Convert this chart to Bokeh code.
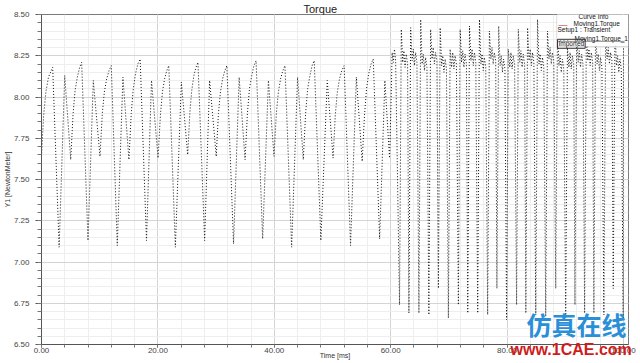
from bokeh.plotting import figure
from bokeh.models import (Range1d, SingleIntervalTicker, FixedTicker, PrintfTickFormatter,
                          Label, BoxAnnotation, LinearAxis, Title)
from bokeh.embed import file_html
from bokeh.resources import INLINE

# ---- data (time in ms, torque in N*m) ----
phase1_time = [0.00, 0.35, 0.75, 1.20, 1.92, 3.03, 3.99, 5.02, 5.43, 5.77, 6.16, 6.56, 6.90,
               7.99, 8.90, 10.05, 10.45, 10.80, 11.20, 11.60, 11.99, 13.02, 13.99, 15.02,
               15.42, 15.77, 16.15, 16.55, 16.95, 18.04, 18.90, 20.03, 20.43, 20.78, 21.15,
               21.52, 21.87, 23.00, 24.03, 25.12, 25.50, 25.82, 26.18, 26.55, 26.88, 28.03,
               28.89, 30.02, 30.40, 30.75, 31.12, 31.50, 31.85, 33.00, 33.96, 34.98, 35.38,
               35.73, 36.12, 36.50, 36.87, 38.00, 38.99, 39.95, 40.35, 40.70, 41.08, 41.47,
               41.83, 42.98, 44.00, 44.98, 45.38, 45.73, 46.12, 46.50, 46.86, 48.00, 49.10,
               50.10, 50.48, 50.83, 51.20, 51.60, 52.00, 53.10, 54.10, 55.10, 55.50, 55.85,
               56.22, 56.62, 57.00, 58.10, 59.00, 59.80, 60.05, 60.25, 60.45, 60.65, 60.85]
phase1_torque = [7.64, 7.88, 8.03, 8.12, 8.18, 7.09, 8.13, 7.62, 7.90, 8.04, 8.12, 8.18, 8.21,
                 7.13, 8.10, 7.64, 7.90, 8.03, 8.11, 8.16, 8.19, 7.10, 8.12, 7.62,
                 7.90, 8.05, 8.14, 8.20, 8.23, 7.13, 8.10, 7.63, 7.89, 8.03, 8.11,
                 8.16, 8.19, 7.09, 8.09, 7.65, 7.91, 8.04, 8.13, 8.18, 8.21, 7.13,
                 8.10, 7.64, 7.90, 8.03, 8.11, 8.16, 8.19, 7.11, 8.12, 7.62, 7.90,
                 8.05, 8.13, 8.19, 8.22, 7.14, 8.10, 7.64, 7.90, 8.03, 8.11, 8.16,
                 8.19, 7.09, 8.12, 7.62, 7.90, 8.05, 8.13, 8.19, 8.22, 7.13, 8.10,
                 7.63, 7.89, 8.03, 8.11, 8.16, 8.19, 7.10, 8.12, 7.61, 7.89, 8.05,
                 8.14, 8.20, 8.23, 7.14, 8.10, 7.63, 7.95, 8.27, 8.21, 8.29, 8.22]

phase2_time = [
    61.52, 61.82, 62.07, 62.27, 62.47, 62.67, 62.90,
    63.13, 63.43, 63.68, 63.88, 64.08, 64.28, 64.51,
    64.85, 65.15, 65.40, 65.60, 65.80, 66.00, 66.23,
    66.56, 66.86, 67.11, 67.31, 67.51, 67.71, 67.94,
    68.20, 68.50, 68.75, 68.95, 69.15, 69.35, 69.58,
    69.91, 70.21, 70.46, 70.66, 70.86, 71.06, 71.29,
    71.63, 71.93, 72.18, 72.38, 72.58, 72.78, 73.01,
    73.24, 73.54, 73.79, 73.99, 74.19, 74.39, 74.62,
    74.95, 75.25, 75.50, 75.70, 75.90, 76.10, 76.33,
    76.66, 76.96, 77.21, 77.41, 77.61, 77.81, 78.04,
    78.25, 78.55, 78.80, 79.00, 79.20, 79.40, 79.63,
    79.91, 80.21, 80.46, 80.66, 80.86, 81.06, 81.29,
    81.63, 81.93, 82.18, 82.38, 82.58, 82.78, 83.01,
    83.22, 83.52, 83.77, 83.97, 84.17, 84.37, 84.60,
    84.93, 85.23, 85.48, 85.68, 85.88, 86.08, 86.31,
    86.64, 86.94, 87.19, 87.39, 87.59, 87.79, 88.02,
    88.36, 88.66, 88.91, 89.11, 89.31, 89.51, 89.74,
    90.07, 90.37, 90.62, 90.82, 91.02, 91.22, 91.45,
    91.66, 91.96, 92.21, 92.41, 92.61, 92.81, 93.04,
    93.32, 93.62, 93.87, 94.07, 94.27, 94.47, 94.70,
    94.91, 95.21, 95.46, 95.66, 95.86, 96.06, 96.29,
    96.63, 96.93, 97.18, 97.38, 97.58, 97.78, 98.01,
    98.24, 98.54, 98.79, 98.99, 99.19, 99.39, 99.62,
    99.95, 100.00]
phase2_torque = [
    6.74, 8.41, 8.21, 8.28, 8.18, 8.26, 8.20,
    6.69, 8.42, 8.22, 8.29, 8.19, 8.27, 8.21,
    6.69, 8.47, 8.20, 8.26, 8.16, 8.24, 8.18,
    6.68, 8.41, 8.23, 8.30, 8.20, 8.27, 8.22,
    6.84, 8.42, 8.19, 8.25, 8.15, 8.23, 8.17,
    6.66, 8.29, 8.18, 8.27, 8.17, 8.25, 8.20,
    6.74, 8.41, 8.21, 8.28, 8.18, 8.26, 8.20,
    6.69, 8.43, 8.22, 8.29, 8.19, 8.27, 8.21,
    6.69, 8.47, 8.20, 8.26, 8.16, 8.24, 8.18,
    6.68, 8.40, 8.23, 8.30, 8.20, 8.27, 8.22,
    6.84, 8.43, 8.19, 8.25, 8.15, 8.23, 8.17,
    6.65, 8.29, 8.18, 8.27, 8.17, 8.25, 8.20,
    6.74, 8.41, 8.21, 8.28, 8.18, 8.26, 8.20,
    6.69, 8.42, 8.22, 8.29, 8.19, 8.27, 8.21,
    6.68, 8.47, 8.20, 8.26, 8.16, 8.24, 8.18,
    6.67, 8.40, 8.23, 8.30, 8.20, 8.27, 8.22,
    6.84, 8.42, 8.19, 8.25, 8.15, 8.23, 8.17,
    6.65, 8.30, 8.18, 8.27, 8.17, 8.25, 8.20,
    6.74, 8.41, 8.21, 8.28, 8.18, 8.26, 8.20,
    6.69, 8.43, 8.22, 8.29, 8.19, 8.27, 8.21,
    6.69, 8.46, 8.20, 8.26, 8.16, 8.24, 8.18,
    6.68, 8.40, 8.23, 8.30, 8.20, 8.27, 8.22,
    6.84, 8.42, 8.19, 8.25, 8.15, 8.23, 8.17,
    6.65, 8.30]

x_limits = [0, 100]
y_limits = [6.5, 8.5]
title_text = "Torque"
x_label = "Time [ms]"
y_label = "Y1 [NewtonMeter]"
legend_header = "Curve Info"
legend_series = ["Moving1.Torque", "Setup1 : Transient", "Moving1.Torque_1", "Imported"]
watermark_cn = "仿真在线"
watermark_url = "www.1CAE.com"

time_ms = phase1_time + phase2_time
torque = phase1_torque + phase2_torque

FONT = "Liberation Sans"

p = figure(width=640, height=363, title=None,
           x_range=Range1d(x_limits[0], 100.86), y_range=Range1d(*y_limits),
           output_backend="svg", toolbar_location=None,
           min_border_left=39, min_border_right=12, min_border_top=13, min_border_bottom=19)
p.background_fill_color = "white"
p.border_fill_color = "white"
p.outline_line_color = "#7a7a7a"
p.outline_line_width = 1

# title in the top border
p.add_layout(Title(text=title_text, align="left", offset=262, standoff=0,
                   text_font=FONT, text_font_size="11px", text_font_style="normal",
                   text_color="#222222"), "above")

p.line(time_ms, torque, line_color="#111111", line_width=1, line_dash="1 2")

# axes
p.xaxis.ticker = SingleIntervalTicker(interval=20, num_minor_ticks=5)
p.yaxis.ticker = SingleIntervalTicker(interval=0.25, num_minor_ticks=5)
p.xaxis.formatter = PrintfTickFormatter(format="%.2f")
p.yaxis.formatter = PrintfTickFormatter(format="%.2f")
for ax in (p.xaxis[0], p.yaxis[0]):
    ax.axis_line_color = "#555555"
    ax.major_tick_line_color = "#555555"
    ax.minor_tick_line_color = "#777777"
    ax.major_label_text_font = FONT
    ax.major_label_text_font_size = "8px"
    ax.major_label_text_color = "#444444"
    ax.major_tick_in = 0
    ax.minor_tick_in = 0
    ax.axis_label_text_font = FONT
    ax.axis_label_text_font_size = "7px"
    ax.axis_label_text_font_style = "normal"
    ax.axis_label_text_color = "#333333"
p.xaxis.axis_label = x_label
p.yaxis.axis_label = y_label
p.xaxis.major_tick_out = 3
p.xaxis.minor_tick_out = 3
p.xaxis.major_label_standoff = 0
p.xaxis.axis_label_standoff = -4
p.yaxis.major_tick_out = 6
p.yaxis.minor_tick_out = 4
p.yaxis.major_label_standoff = 6
p.yaxis.axis_label_standoff = 0

# grid
p.xgrid.grid_line_color = "#d4d4d4"
p.ygrid.grid_line_color = "#d4d4d4"
p.xgrid.minor_grid_line_color = "#eeeeee"
p.ygrid.minor_grid_line_color = "#eeeeee"

# legend box (Curve Info)
p.add_layout(BoxAnnotation(left=88.53, right=100.86, bottom=8.306, top=8.512,
                           fill_color="white", fill_alpha=1.0, line_color="#8a8a8a", line_width=1))
p.add_layout(BoxAnnotation(left=88.70, right=100.17, bottom=8.337, top=8.337,
                           fill_alpha=0, line_color="#333333", line_width=1))
lx, ly = x_limits[1], y_limits[1]
def legend_text(txt, dx, dy, align="left", color="#111111", size="6.5px", **kw):
    p.add_layout(Label(x=lx, y=ly, x_offset=dx, y_offset=dy, text=txt, text_align=align,
                       text_baseline="middle", text_font=FONT, text_font_size=size,
                       text_color=color, **kw))
legend_text(legend_header, -30, -2, align="center")
legend_text("\u2014", -65, -10, color="#cc2020", size="9px")
legend_text(legend_series[0], -50, -9)
legend_text(legend_series[1], -66, -14.5)
legend_text(". . .", -64, -24)
legend_text(legend_series[2], -49, -23.5)
legend_text(legend_series[3], -66, -29.3, border_line_color="#333333", border_line_width=1, padding=1)

# site watermark
p.add_layout(Label(x=x_limits[1], y=y_limits[0], x_offset=-97, y_offset=20.5, text=watermark_cn,
                   text_align="left", text_baseline="middle", text_font="Noto Sans CJK SC",
                   text_font_size="25px", text_font_style="bold", text_color="#2b8fd8"))
url_axis = LinearAxis(ticker=FixedTicker(ticks=[94]), major_label_overrides={94: watermark_url},
                      axis_line_color=None, major_tick_line_color=None, minor_tick_line_color=None,
                      major_tick_out=0, major_tick_in=0, major_label_standoff=-21,
                      major_label_text_font=FONT, major_label_text_font_style="bold",
                      major_label_text_font_size="16px", major_label_text_color="#d01c1c")
p.add_layout(url_axis, "below")

open("out.html", "w").write(file_html(p, INLINE))
